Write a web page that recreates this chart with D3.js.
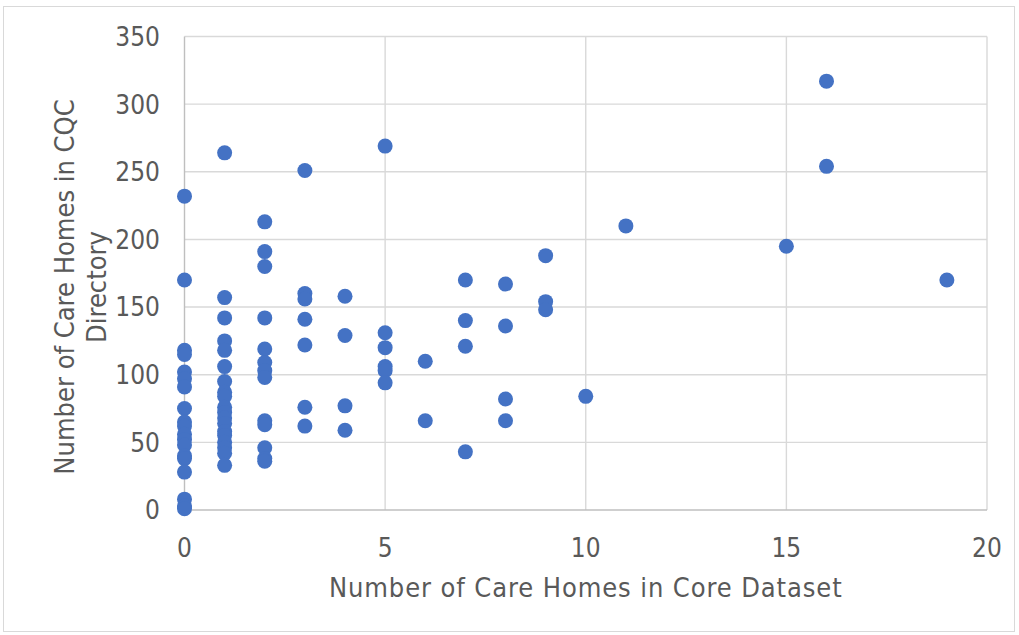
<!DOCTYPE html>
<html>
<head>
<meta charset="utf-8">
<script src="https://cdn.jsdelivr.net/npm/d3@7"></script>
<style>
  html, body { margin: 0; padding: 0; background: #fff; }
  svg { display: block; }
  text { font-family: "DejaVu Sans Condensed", "DejaVu Sans", sans-serif; fill: #595959; }
</style>
</head>
<body>
<svg id="chart" width="1019" height="635"></svg>
<script>
// Care homes per area: count in the core dataset vs. count in the CQC directory
const coreDataset = [
  0, 0, 0, 0, 0, 0, 0, 0, 0, 0, 0, 0, 0, 0, 0, 0, 0, 0, 0,
  1, 1, 1, 1, 1, 1, 1, 1, 1, 1, 1, 1, 1, 1, 1, 1, 1, 1, 1,
  2, 2, 2, 2, 2, 2, 2, 2, 2, 2, 2, 2, 2,
  3, 3, 3, 3, 3, 3, 3,
  4, 4, 4, 4,
  5, 5, 5, 5, 5, 5,
  6, 6,
  7, 7, 7, 7,
  8, 8, 8, 8,
  9, 9, 9,
  10, 11, 15, 16, 16, 19
];
const cqcDirectory = [
  232, 170, 118, 115, 102, 97, 91, 75, 65, 62, 56, 52, 48, 40, 38, 28, 8, 3, 1,
  264, 157, 142, 125, 118, 106, 95, 87, 84, 76, 72, 68, 64, 58, 55, 50, 46, 42, 33,
  213, 191, 180, 142, 119, 109, 103, 98, 66, 63, 46, 38, 36,
  251, 160, 156, 141, 122, 76, 62,
  158, 129, 77, 59,
  269, 131, 120, 106, 103, 94,
  110, 66,
  170, 140, 121, 43,
  167, 136, 82, 66,
  188, 154, 148,
  84, 210, 195, 317, 254, 170
];
const xTicks = [0, 5, 10, 15, 20];
const yTicks = [0, 50, 100, 150, 200, 250, 300, 350];
const xTitle = "Number of Care Homes in Core Dataset";
const yTitleLines = ["Number of Care Homes in CQC", "Directory"];

const svg = d3.select("#chart");

// chart frame
svg.append("rect")
  .attr("x", 3.5).attr("y", 6.5)
  .attr("width", 1011).attr("height", 625)
  .attr("fill", "#fff")
  .attr("stroke", "#d9d9d9")
  .attr("stroke-width", 1);

const plot = { left: 184.5, right: 987, top: 36.5, bottom: 510 };

const x = d3.scaleLinear().domain([0, 20]).range([plot.left, plot.right]);
const y = d3.scaleLinear().domain([0, 350]).range([plot.bottom, plot.top]);

const g = svg.append("g");

// gridlines
g.selectAll("line.hgrid")
  .data(yTicks.filter(d => d > 0))
  .join("line")
  .attr("class", "hgrid")
  .attr("x1", plot.left).attr("x2", plot.right)
  .attr("y1", d => y(d)).attr("y2", d => y(d))
  .attr("stroke", "#d9d9d9").attr("stroke-width", 1.4);

g.selectAll("line.vgrid")
  .data(xTicks.filter(d => d > 0))
  .join("line")
  .attr("class", "vgrid")
  .attr("x1", d => x(d)).attr("x2", d => x(d))
  .attr("y1", plot.top).attr("y2", plot.bottom)
  .attr("stroke", "#d9d9d9").attr("stroke-width", 1.4);

// axis lines
g.append("line")
  .attr("x1", plot.left).attr("x2", plot.right)
  .attr("y1", y(0)).attr("y2", y(0))
  .attr("stroke", "#bfbfbf").attr("stroke-width", 1.4);
g.append("line")
  .attr("x1", x(0)).attr("x2", x(0))
  .attr("y1", plot.top).attr("y2", plot.bottom)
  .attr("stroke", "#bfbfbf").attr("stroke-width", 1.4);

// tick labels
const tickFont = 26;
g.selectAll("text.xtick")
  .data(xTicks)
  .join("text")
  .attr("class", "xtick")
  .attr("x", d => x(d))
  .attr("y", 557)
  .attr("text-anchor", "middle")
  .attr("font-size", tickFont)
  .text(d => d);

g.selectAll("text.ytick")
  .data(yTicks)
  .join("text")
  .attr("class", "ytick")
  .attr("x", 160)
  .attr("y", d => y(d))
  .attr("dy", "0.36em")
  .attr("text-anchor", "end")
  .attr("font-size", tickFont)
  .text(d => d);

// axis titles
svg.append("text")
  .attr("x", (plot.left + plot.right) / 2)
  .attr("y", 597)
  .attr("text-anchor", "middle")
  .attr("font-size", 27)
  .attr("letter-spacing", 0.9)
  .text(xTitle);

const yTitle = svg.append("text")
  .attr("transform", "translate(0,287) rotate(-90)")
  .attr("text-anchor", "middle")
  .attr("font-size", 27);
yTitle.selectAll("tspan")
  .data(yTitleLines)
  .join("tspan")
  .attr("x", 0)
  .attr("y", (d, i) => 73.5 + i * 32)
  .text(d => d);

// markers
g.selectAll("circle.pt")
  .data(coreDataset.map((c, i) => [c, cqcDirectory[i]]))
  .join("circle")
  .attr("class", "pt")
  .attr("cx", d => x(d[0]))
  .attr("cy", d => y(d[1]))
  .attr("r", 7.5)
  .attr("fill", "#4472c4");
</script>
</body>
</html>
